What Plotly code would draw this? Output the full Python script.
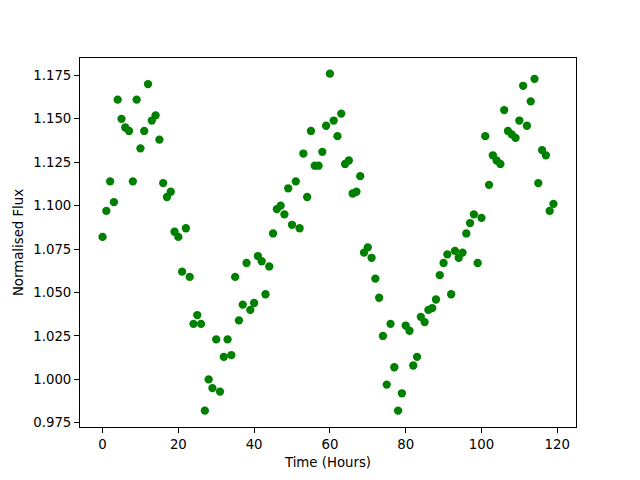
import plotly.graph_objects as go

hours = list(range(120))
flux = [
    1.082, 1.097, 1.114, 1.102, 1.161, 1.150, 1.145, 1.143, 1.114, 1.161,
    1.133, 1.143, 1.170, 1.149, 1.152, 1.138, 1.113, 1.105, 1.108, 1.085,
    1.082, 1.062, 1.087, 1.059, 1.032, 1.037, 1.032, 0.982, 1.000, 0.995,
    1.023, 0.993, 1.013, 1.023, 1.014, 1.059, 1.034, 1.043, 1.067, 1.040,
    1.044, 1.071, 1.068, 1.049, 1.065, 1.084, 1.098, 1.100, 1.095, 1.110,
    1.089, 1.114, 1.087, 1.130, 1.105, 1.143, 1.123, 1.123, 1.131, 1.146,
    1.176, 1.149, 1.140, 1.153, 1.124, 1.126, 1.107, 1.108, 1.117, 1.073,
    1.076, 1.070, 1.058, 1.047, 1.025, 0.997, 1.032, 1.007, 0.982, 0.992,
    1.031, 1.028, 1.008, 1.013, 1.036, 1.033, 1.040, 1.041, 1.046, 1.060,
    1.067, 1.072, 1.049, 1.074, 1.070, 1.073, 1.084, 1.090, 1.095, 1.067,
    1.093, 1.140, 1.112, 1.129, 1.126, 1.124, 1.155, 1.143, 1.141, 1.139,
    1.149, 1.169, 1.146, 1.160, 1.173, 1.113, 1.132, 1.129, 1.097, 1.101,
]

fig = go.Figure(go.Scatter(
    x=hours, y=flux, mode="markers",
    marker=dict(color="#008000", size=8.3, line=dict(width=0)),
))

font = dict(family="DejaVu Sans", size=13.3, color="black")
axis_common = dict(
    showgrid=False, zeroline=False, showline=True, linecolor="black",
    linewidth=1, mirror=True, ticks="outside", ticklen=5, tickwidth=1,
    tickcolor="black", tickfont=font,
)
fig.update_layout(
    width=640, height=480,
    margin=dict(l=80, r=64, t=57.6, b=52.8),
    paper_bgcolor="white", plot_bgcolor="white",
    showlegend=False, font=font,
    xaxis=dict(range=[-5.95, 124.95], dtick=20, tick0=0,
               title=dict(text="Time (Hours)", font=font, standoff=6),
               **axis_common),
    yaxis=dict(range=[0.9726, 1.185], dtick=0.025, tick0=0.975, tickformat=".3f",
               title=dict(text="Normalised Flux", font=font, standoff=6),
               **axis_common),
)

fig.write_html("out.html", config={"displayModeBar": False},
               post_script="document.body.style.margin='0';")
